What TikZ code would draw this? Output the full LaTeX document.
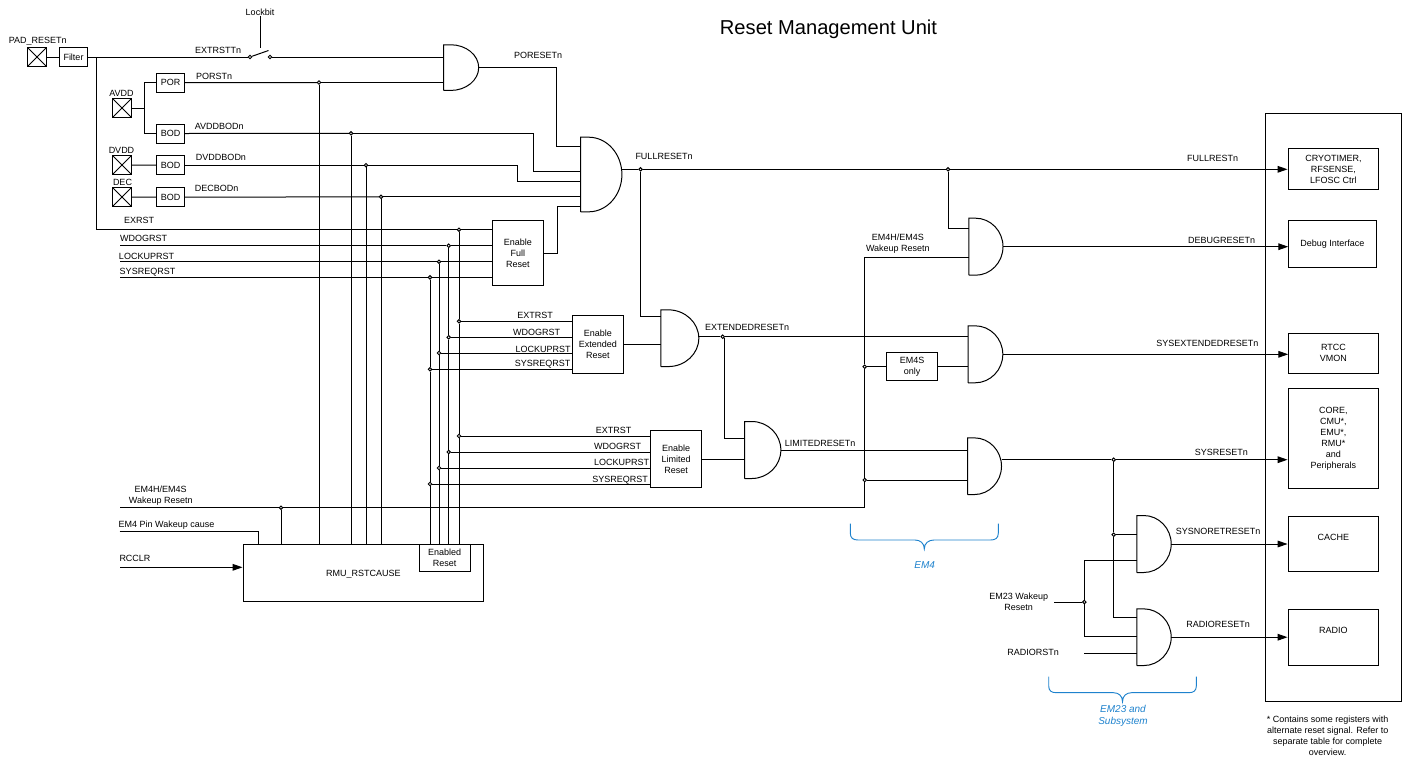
\documentclass[tikz,border=0pt]{standalone}
\usepackage{fontspec}
\setmainfont{Liberation Sans}
\usetikzlibrary{arrows.meta,calc}
\definecolor{bracecol}{RGB}{30,130,205}
\newcommand{\andoutline}[1]{\draw (#1.south west) -- (#1.north west) -- ($(#1.north west)!0.2!(#1.north east)$)
  .. controls ($(#1.north west)!0.64!(#1.north east)$) and ($(#1.east)!0.55!(#1.north east)$) .. (#1.east)
  .. controls ($(#1.east)!0.55!(#1.south east)$) and ($(#1.south west)!0.64!(#1.south east)$) .. ($(#1.south west)!0.2!(#1.south east)$)
  -- (#1.south west);}
\begin{document}
\begin{tikzpicture}[
    x=0.75pt, y=-0.75pt, line width=0.75pt,
    every node/.style={font=\fontsize{6.75}{8.25}\selectfont, inner sep=0pt, align=center},
    boxsize/.style 2 args={minimum width=#1*0.75pt, minimum height=#2*0.75pt},
    blockbox/.style={rectangle, draw},
    padbox/.style={rectangle, draw, boxsize={19}{19}, path picture={
      \draw (path picture bounding box.north west) -- (path picture bounding box.south east);
      \draw (path picture bounding box.north east) -- (path picture bounding box.south west);}},
    smallbox/.style={blockbox, boxsize={28}{19}},
    andgate/.style={rectangle},
    junction/.style={circle, draw, fill=white, minimum size=2.6pt},
    arrowline/.style={-{Triangle[length=7.5pt,width=5pt]}},
    bracket/.style={draw=bracecol, line width=0.7pt},
    bracetext/.style={text=bracecol, font=\fontsize{7.5}{9}\selectfont\itshape}
  ]
    \useasboundingbox (0,0) rectangle (1405,761);
    \node (title) at (828.5,29.5) {\fontsize{15.1}{18}\selectfont Reset Management Unit};

    \node[padbox] (padreset) at (37,57) {};
    \node (padresetlabel) at (37.7,41.7) {PAD\_RESETn};
    \node[smallbox] (filter) at (73.5,57) {Filter};
    \node[padbox] (avdd) at (122,108) {};
    \node (avddlabel) at (121.5,93) {AVDD};
    \node[padbox] (dvdd) at (122,165) {};
    \node (dvddlabel) at (121.5,150) {DVDD};
    \node[padbox] (dec) at (122,197) {};
    \node (declabel) at (122.5,182) {DEC};
    \node[smallbox] (por) at (170.7,82.7) {POR};
    \node[smallbox] (avddbod) at (170.7,133.5) {BOD};
    \node[smallbox] (dvddbod) at (170.7,165.2) {BOD};
    \node[smallbox] (decbod) at (170.7,197.2) {BOD};

    \node (lockbit) at (260,12) {Lockbit};
    \node[junction] (swleft) at (250,57) {};
    \node[junction] (swright) at (270,57) {};
    \coordinate (swblade) at (268.5,50.5);
    \coordinate (swhinge) at (260,48);
    \coordinate (filtertap) at (96,57);
    \coordinate (avddtap) at (144.3,108);

    \node[andgate, boxsize={34}{44.7}] (porgate) at (461.2,67.6) {};
    \node[andgate, boxsize={40.4}{73.6}] (fullgate) at (601.2,174.5) {};
    \node[andgate, boxsize={37}{55.7}] (extgate) at (679.8,338.2) {};
    \node[andgate, boxsize={35.3}{56}] (limgate) at (762.7,450) {};
    \node[andgate, boxsize={33.2}{56}] (debuggate) at (985.9,246.7) {};
    \node[andgate, boxsize={33.6}{56}] (sysextgate) at (985.5,354.3) {};
    \node[andgate, boxsize={33}{55.7}] (sysgate) at (984.5,466.2) {};
    \node[andgate, boxsize={33.4}{56}] (noretgate) at (1154,544) {};
    \node[andgate, boxsize={33.4}{55.7}] (radiogate) at (1154,637.2) {};
    \andoutline{porgate}
    \andoutline{fullgate}
    \andoutline{extgate}
    \andoutline{limgate}
    \andoutline{debuggate}
    \andoutline{sysextgate}
    \andoutline{sysgate}
    \andoutline{noretgate}
    \andoutline{radiogate}

    \node[blockbox, boxsize={51}{64.7}] (enfull) at (517.8,253.3) {Enable\\Full\\Reset};
    \node[blockbox, boxsize={51}{57.7}] (enext) at (597.8,344.2) {Enable\\Extended\\Reset};
    \node[blockbox, boxsize={51}{57.4}] (enlim) at (676.2,459) {Enable\\Limited\\Reset};
    \node[blockbox, boxsize={51}{28}] (em4sonly) at (912.2,366.3) {EM4S\\only};
    \node[blockbox, boxsize={240.7}{56.6}, label={[yshift=-0.9pt]center:RMU\_RSTCAUSE}] (rmu) at (363.4,573) {};
    \node[blockbox, boxsize={50.7}{26.6}] (enabled) at (444.7,558) {Enabled\\Reset};

    \node[blockbox, boxsize={136.7}{587.3}] (outer) at (1333.4,407.4) {};
    \node[blockbox, boxsize={90.7}{40.6}] (cryo) at (1333.4,169) {CRYOTIMER,\\RFSENSE,\\LFOSC Ctrl};
    \node[blockbox, boxsize={87.3}{47}] (debugif) at (1332.4,243.8) {Debug Interface};
    \node[blockbox, boxsize={89.3}{40.3}] (rtcc) at (1333.4,353.2) {RTCC\\VMON};
    \node[blockbox, boxsize={90.7}{100.4}] (core) at (1333.4,438.5) {CORE,\\CMU*,\\EMU*,\\RMU*\\and\\Peripherals};
    \node[blockbox, boxsize={90.7}{55.4}, label={[yshift=4.8pt]center:CACHE}] (cache) at (1333.4,544) {};
    \node[blockbox, boxsize={90.7}{55.7}, label={[yshift=4.8pt]center:RADIO}] (radio) at (1333.4,637.2) {};

    \coordinate (wdogin) at (120,245.7);
    \coordinate (lockin) at (120,261.7);
    \coordinate (sysreqin) at (120,277.4);
    \coordinate (wakein) at (120,507.7);
    \coordinate (pinin) at (119.5,531.7);
    \coordinate (rcclrin) at (120,567.3);
    \coordinate (em23in) at (1054,602);
    \coordinate (radiorstin) at (1084,653.7);

    \node[junction] (porstdot) at (319,82.5) {};
    \node[junction] (avdddot) at (351,133.3) {};
    \node[junction] (dvdddot) at (366,165.2) {};
    \node[junction] (decdot) at (381,196.8) {};
    \node[junction] (exa) at (459,229.7) {};
    \node[junction] (exb) at (459,321.3) {};
    \node[junction] (exc) at (459,436) {};
    \node[junction] (wda) at (448.7,245.7) {};
    \node[junction] (wdb) at (448.7,337.3) {};
    \node[junction] (wdc) at (448.7,452) {};
    \node[junction] (lka) at (439,261.7) {};
    \node[junction] (lkb) at (439,353) {};
    \node[junction] (lkc) at (439,468) {};
    \node[junction] (sra) at (430,277.4) {};
    \node[junction] (srb) at (430,369.3) {};
    \node[junction] (src) at (430,484) {};
    \node[junction] (wakedot) at (281,507.7) {};
    \node[junction] (fulldot) at (640.5,169.3) {};
    \node[junction] (debugdot) at (948,169.3) {};
    \node[junction] (extdot) at (722.7,336.7) {};
    \node[junction] (em4sdot) at (864.7,366.7) {};
    \node[junction] (sysdot) at (864.7,480) {};
    \node[junction] (sysresetdot) at (1113.7,459.7) {};
    \node[junction] (noretdot) at (1113.7,534.7) {};
    \node[junction] (em23dot) at (1084.3,602) {};

    \draw (padreset) -- (filter);
    \draw (filter) -- (swleft);
    \draw (swleft) -- (swblade);
    \draw (lockbit) -- (swhinge);
    \draw (swright) -- (porgate.west |- swright);
    \draw (filtertap) |- (exa);
    \draw (exa) -- (enfull.west |- exa);
    \draw (exa) -- (exb);
    \draw (exb) -- (exc);
    \draw (exc) -- (exc |- enabled.north);
    \draw (exb) -- (enext.west |- exb);
    \draw (exc) -- (enlim.west |- exc);
    \draw (wdogin) -- (wda);
    \draw (wda) -- (enfull.west |- wda);
    \draw (wda) -- (wdb);
    \draw (wdb) -- (wdc);
    \draw (wdc) -- (wdc |- enabled.north);
    \draw (wdb) -- (enext.west |- wdb);
    \draw (wdc) -- (enlim.west |- wdc);
    \draw (lockin) -- (lka);
    \draw (lka) -- (enfull.west |- lka);
    \draw (lka) -- (lkb);
    \draw (lkb) -- (lkc);
    \draw (lkc) -- (lkc |- enabled.north);
    \draw (lkb) -- (enext.west |- lkb);
    \draw (lkc) -- (enlim.west |- lkc);
    \draw (sysreqin) -- (sra);
    \draw (sra) -- (enfull.west |- sra);
    \draw (sra) -- (srb);
    \draw (srb) -- (src);
    \draw (src) -- (src |- enabled.north);
    \draw (srb) -- (enext.west |- srb);
    \draw (src) -- (enlim.west |- src);

    \draw (avdd) -- (avddtap);
    \draw (por.west) -| (avddtap);
    \draw (avddbod.west) -| (avddtap);
    \draw (dvdd) -- (dvddbod);
    \draw (dec) -- (decbod);
    \draw (por.east) -- (porstdot);
    \draw (porstdot) -- (porgate.west |- porstdot);
    \draw (porstdot) -- (porstdot |- rmu.north);
    \draw (avddbod.east) -- (avdddot);
    \draw (avdddot) -- (avdddot |- rmu.north);
    \draw (dvddbod.east) -- (dvdddot);
    \draw (dvdddot) -- (dvdddot |- rmu.north);
    \draw (decbod.east) -- (decdot);
    \draw (decdot) -- (decdot |- rmu.north);
    \draw (decdot) -- (fullgate.west |- decdot);
    \draw (avdddot) -- (533.2,133.3) |- (fullgate.west |- 0,171);
    \draw (dvdddot) -- (517.9,165.2) |- (fullgate.west |- 0,181.3);
    \draw (porgate.east) -- (556.8,67.6) |- (fullgate.west |- 0,146);
    \draw (enfull.east) -- (557,253.3) |- (fullgate.west |- 0,206.3);

    \draw (fullgate.east |- fulldot) -- (fulldot);
    \draw (fulldot) -- (debugdot);
    \draw[arrowline] (debugdot) -- (cryo.west |- debugdot);
    \draw (fulldot.south) |- (extgate.west |- 0,316.3);
    \draw (debugdot) |- (debuggate.west |- 0,228.3);
    \draw (enext.east) -- (extgate.west |- enext.east);
    \draw (extgate.east |- extdot) -- (extdot);
    \draw (extdot) -- (sysextgate.west |- extdot);
    \draw (724.7,338.2) |- (limgate.west |- 0,438.7);
    \draw (enlim.east) -- (limgate.west |- enlim.east);
    \draw (limgate.east) -- (sysgate.west |- limgate.east);
    \draw[arrowline] (debuggate.east) -- (debugif.west |- debuggate.east);
    \draw[arrowline] (sysextgate.east) -- (rtcc.west |- sysextgate.east);
    \draw (em4sdot) -- (em4sonly.west |- em4sdot);
    \draw (em4sonly.east) -- (sysextgate.west |- em4sonly.east);
    \draw (sysdot) -- (sysgate.west |- sysdot);

    \draw (wakein) -- (wakedot);
    \draw (wakedot) -- (wakedot |- rmu.north);
    \draw (wakedot) -| (sysdot);
    \draw (sysdot) -- (em4sdot);
    \draw (em4sdot) |- (debuggate.west |- 0,257);
    \draw (pinin) -| (258.3,544.7);
    \draw[arrowline] (rcclrin) -- (rmu.west |- rcclrin);

    \draw (sysgate.east |- sysresetdot) -- (sysresetdot);
    \draw[arrowline] (sysresetdot) -- (core.west |- sysresetdot);
    \draw (sysresetdot) -- (noretdot);
    \draw (noretdot) -- (noretgate.west |- noretdot);
    \draw (noretdot) |- (radiogate.west |- 0,617.7);
    \draw (em23in) -- (em23dot);
    \draw (em23dot) |- (noretgate.west |- 0,560.7);
    \draw (em23dot) |- (radiogate.west |- 0,636.7);
    \draw (radiorstin) -- (radiogate.west |- radiorstin);
    \draw[arrowline] (noretgate.east) -- (cache.west |- noretgate.east);
    \draw[arrowline] (radiogate.east) -- (radio.west |- radiogate.east);

    \node (extrsttn) at (218.2,50.5) {EXTRSTTn};
    \node (porstn) at (214.2,76.7) {PORSTn};
    \node (avddbodn) at (219.2,126.7) {AVDDBODn};
    \node (dvddbodn) at (221,157.7) {DVDDBODn};
    \node (decbodn) at (216.7,188.7) {DECBODn};
    \node (exrstlabel) at (139.2,220.7) {EXRST};
    \node (wdoglabel) at (143.7,238.7) {WDOGRST};
    \node (locklabel) at (146.5,256.7) {LOCKUPRST};
    \node (sysreqlabel) at (147.5,272.7) {SYSREQRST};
    \node (poresetn) at (538,55.7) {PORESETn};
    \node (fullresetn) at (664,156.7) {FULLRESETn};
    \node (extrstb) at (535,315.7) {EXTRST};
    \node (wdogb) at (536.7,332) {WDOGRST};
    \node (lockb) at (543,349) {LOCKUPRST};
    \node (sysreqb) at (542.7,363.7) {SYSREQRST};
    \node (extrstc) at (613.7,430.7) {EXTRST};
    \node (wdogc) at (617.7,446.7) {WDOGRST};
    \node (lockc) at (621.7,462.7) {LOCKUPRST};
    \node (sysreqc) at (620,479.7) {SYSREQRST};
    \node (wakelabel) at (160.7,495.7) {EM4H/EM4S\\Wakeup Resetn};
    \node (pinlabel) at (166.5,525) {EM4 Pin Wakeup cause};
    \node (rcclrlabel) at (135,558) {RCCLR};
    \node (extendedresetn) at (747,327) {EXTENDEDRESETn};
    \node (limitedresetn) at (820,443) {LIMITEDRESETn};
    \node (wakeb) at (897.9,243.2) {EM4H/EM4S\\Wakeup Resetn};
    \node (fullrestn) at (1212.7,158.7) {FULLRESTn};
    \node (debugresetn) at (1221.7,240) {DEBUGRESETn};
    \node (sysextn) at (1207.3,343) {SYSEXTENDEDRESETn};
    \node (sysresetn) at (1221.3,452.7) {SYSRESETn};
    \node (noretn) at (1218,531.7) {SYSNORETRESETn};
    \node (radioresetn) at (1218,624.7) {RADIORESETn};
    \node (em23label) at (1018.7,602) {EM23 Wakeup\\Resetn};
    \node (radiorstlabel) at (1033,652.7) {RADIORSTn};

    \draw[bracket] (850.3,523.7) -- (850.3,533) .. controls (850.3,538) and (853,540) .. (858,540) -- (915,540) .. controls (920,540) and (924.3,543) .. (924.3,549) .. controls (924.3,543) and (928.6,540) .. (934,540) -- (990.6,540) .. controls (995.6,540) and (998.3,538) .. (998.3,533) -- (998.3,523.7);
    \node[bracetext] (em4label) at (924.6,565) {EM4};
    \draw[bracket] (1048.7,676.7) -- (1048.7,686) .. controls (1048.7,690.7) and (1051.4,692.7) .. (1056.4,692.7) -- (1113.5,692.7) .. controls (1118.5,692.7) and (1122.5,695.7) .. (1122.5,701.7) .. controls (1122.5,695.7) and (1126.5,692.7) .. (1131.5,692.7) -- (1188.6,692.7) .. controls (1193.6,692.7) and (1196.3,690.7) .. (1196.3,686) -- (1196.3,676.7);
    \node[bracetext] (em23sub) at (1123,715.7) {EM23 and\\Subsystem};
    \node (footnote) at (1327.7,736.2) {* Contains some registers with\\alternate reset signal. Refer to\\separate table for complete\\overview.};
  \end{tikzpicture}
\end{document}
